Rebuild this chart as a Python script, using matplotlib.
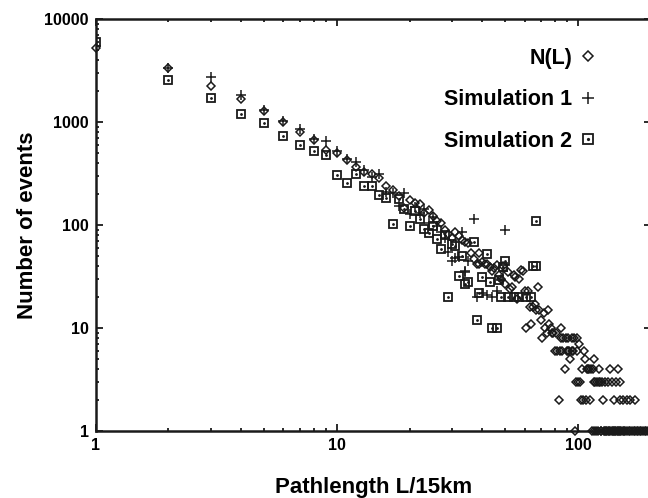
import matplotlib
matplotlib.use("Agg")
import matplotlib.pyplot as plt
from matplotlib.legend_handler import HandlerTuple
from matplotlib.ticker import FixedLocator, FixedFormatter, LogLocator, NullFormatter

plt.rcParams['font.family'] = ['Liberation Sans', 'DejaVu Sans']
plt.rcParams['font.weight'] = 'bold'

# N(L) - measured pathlength distribution (diamonds)
nl_L = [1, 2, 3, 4, 5, 6, 7, 8, 9, 10, 11, 12, 13, 14, 15, 16, 17, 18, 19, 20,
        21, 22, 23, 24, 25, 26, 27, 28, 29, 30, 31, 32, 33, 34, 35, 36, 37, 38, 39, 39,
        40, 41, 42, 43, 44, 45, 46, 47, 48, 49, 50, 51, 52, 53, 54, 55, 56, 57, 58, 59,
        60, 61, 62, 63, 64, 65, 66, 67, 68, 69, 70, 71, 72, 73, 74, 75, 76, 77, 78, 79,
        80, 81, 82, 83, 84, 85, 85, 86, 87, 88, 89, 90, 91, 91, 92, 93, 94, 94, 95, 96,
        97, 98, 99, 99, 100, 101, 102, 103, 104, 105, 106, 107, 108, 109, 110, 111, 112,
        113, 115, 116, 117, 118, 120, 122, 122, 123, 126, 127, 130, 133, 136, 138, 141,
        144, 146, 150, 150, 154, 159, 164, 172,
        114, 117, 119, 121, 124, 125, 128, 129, 131, 132, 134, 135, 137, 139, 140, 142,
        143, 145, 147, 148, 149, 151, 153, 155, 157, 160, 162, 165, 167, 170, 173, 175,
        178, 180, 183, 186, 189, 192, 195, 198]
nl_N = [5200, 3370, 2250, 1660, 1270, 1000, 800, 668, 535, 505, 427, 368, 329, 317, 285, 239, 218, 191, 148, 175,
        164, 159, 132, 139, 122, 110, 105, 90, 82, 75, 86, 78, 71, 68, 67, 54, 47, 42, 54, 42,
        44, 42, 42, 39, 36, 38, 41, 33, 30, 40, 27, 35, 24, 25, 33, 31, 19, 30, 37, 36,
        23, 10, 23, 16, 11, 16, 17, 15, 25, 15, 12, 8, 14, 10, 9, 15, 11, 10, 9, 9,
        6, 9, 6, 2, 6, 10, 8, 6, 8, 4, 8, 6, 8, 6, 6, 5, 8, 6, 6, 8,
        1, 3, 8, 6, 3, 7, 3, 2, 4, 2, 6, 5, 2, 4, 4, 4, 2,
        4, 4, 5, 3, 3, 3, 4, 3, 3, 3, 2, 3, 3, 4, 3, 2,
        3, 4, 3, 2, 2, 2, 2, 2,
        1, 1, 1, 1, 1, 1, 1, 1, 1, 1, 1, 1, 1, 1, 1, 1,
        1, 1, 1, 1, 1, 1, 1, 1, 1, 1, 1, 1, 1, 1, 1, 1,
        1, 1, 1, 1, 1, 1, 1, 1]

# Simulation 1 (plus)
s1_L = [1, 2, 3, 4, 5, 6, 7, 8, 9, 10, 11, 12, 13, 14, 15, 16, 17, 18, 19, 20,
        21, 22, 23, 24, 25, 26, 27, 28, 29, 30, 31, 32, 33, 34, 34, 35, 37, 38, 40, 42,
        44, 46, 48, 49, 50]
s1_N = [5500, 3370, 2750, 1830, 1300, 1020, 850, 680, 658, 520, 440, 411, 340, 294, 313, 211, 205, 153, 206, 127,
        150, 130, 142, 105, 120, 98, 85, 75, 55, 45, 48, 49, 86, 36, 35, 45, 114, 20, 22, 21,
        20, 23, 29, 36, 89]

# Simulation 2 (squares)
s2_L = [1, 2, 3, 4, 5, 6, 7, 8, 9, 10, 11, 12, 13, 14, 15, 16, 17, 18, 19, 20,
        21, 22, 23, 24, 25, 26, 27, 28, 29, 30, 31, 32, 33, 34, 35, 37, 38, 39, 40, 42,
        43, 44, 46, 47, 48, 49, 50, 51, 54, 57, 61, 64, 65, 67, 67]
s2_N = [6000, 2540, 1710, 1190, 970, 726, 598, 523, 478, 310, 257, 313, 239, 239, 194, 185, 102, 179, 142, 98,
        137, 115, 92, 83, 98, 74, 58, 80, 20, 66, 62, 32, 50, 27, 28, 68, 12, 22, 31, 52,
        28, 10, 10, 29, 20, 39, 45, 20, 20, 20, 20, 20, 40, 40, 110]

ink = '#1a1a1a'

fig = plt.figure(figsize=(6.48, 4.98), dpi=100)
ax = fig.add_axes([0.148, 0.1345, 0.856, 0.827])

h_nl, = ax.plot(nl_L, nl_N, linestyle='none', marker='D', ms=4.0, mfc='none',
                mec=ink, mew=1.1, clip_on=False)
h_s1, = ax.plot(s1_L, s1_N, linestyle='none', marker='+', ms=7, mec=ink, mew=1.1)
h_sq, = ax.plot(s2_L, s2_N, linestyle='none', marker='s', ms=5.6, mfc='none',
                mec=ink, mew=1.3)
h_dot, = ax.plot(s2_L, s2_N, linestyle='none', marker='.', ms=2, color=ink)

ax.set_xscale('log')
ax.set_yscale('log')
ax.set_xlim(1, 200)
ax.set_ylim(1, 10000)

ax.xaxis.set_major_locator(FixedLocator([1, 10, 100]))
ax.xaxis.set_major_formatter(FixedFormatter(['1', '10', '100']))
ax.yaxis.set_major_locator(FixedLocator([1, 10, 100, 1000, 10000]))
ax.yaxis.set_major_formatter(FixedFormatter(['1', '10', '100', '1000', '10000']))
ax.xaxis.set_minor_locator(LogLocator(base=10, subs=range(2, 10)))
ax.yaxis.set_minor_locator(LogLocator(base=10, subs=range(2, 10)))
ax.xaxis.set_minor_formatter(NullFormatter())
ax.yaxis.set_minor_formatter(NullFormatter())

ax.tick_params(which='both', direction='in', top=True, right=True, color=ink,
               labelsize=11.5, width=1.3)
ax.tick_params(which='major', length=5, pad=5)
ax.tick_params(which='minor', length=2.5)
for sp in ax.spines.values():
    sp.set_linewidth(1.8)
    sp.set_color(ink)

ax.set_xlabel('Pathlength L/15km', fontsize=16, fontweight='bold', labelpad=17)
ax.set_ylabel('Number of events', fontsize=16, fontweight='bold', labelpad=5)

leg = ax.legend([h_nl, h_s1, (h_sq, h_dot)], ['N(L)', 'Simulation 1', 'Simulation 2'],
                handler_map={tuple: HandlerTuple(ndivide=1)},
                loc='upper right', bbox_to_anchor=(0.937, 0.978), frameon=False,
                markerfirst=False, fontsize=15.5, labelspacing=0.95,
                handlelength=0.8, handletextpad=0.3, markerscale=1.3)

fig.savefig('out.png', dpi=100)
